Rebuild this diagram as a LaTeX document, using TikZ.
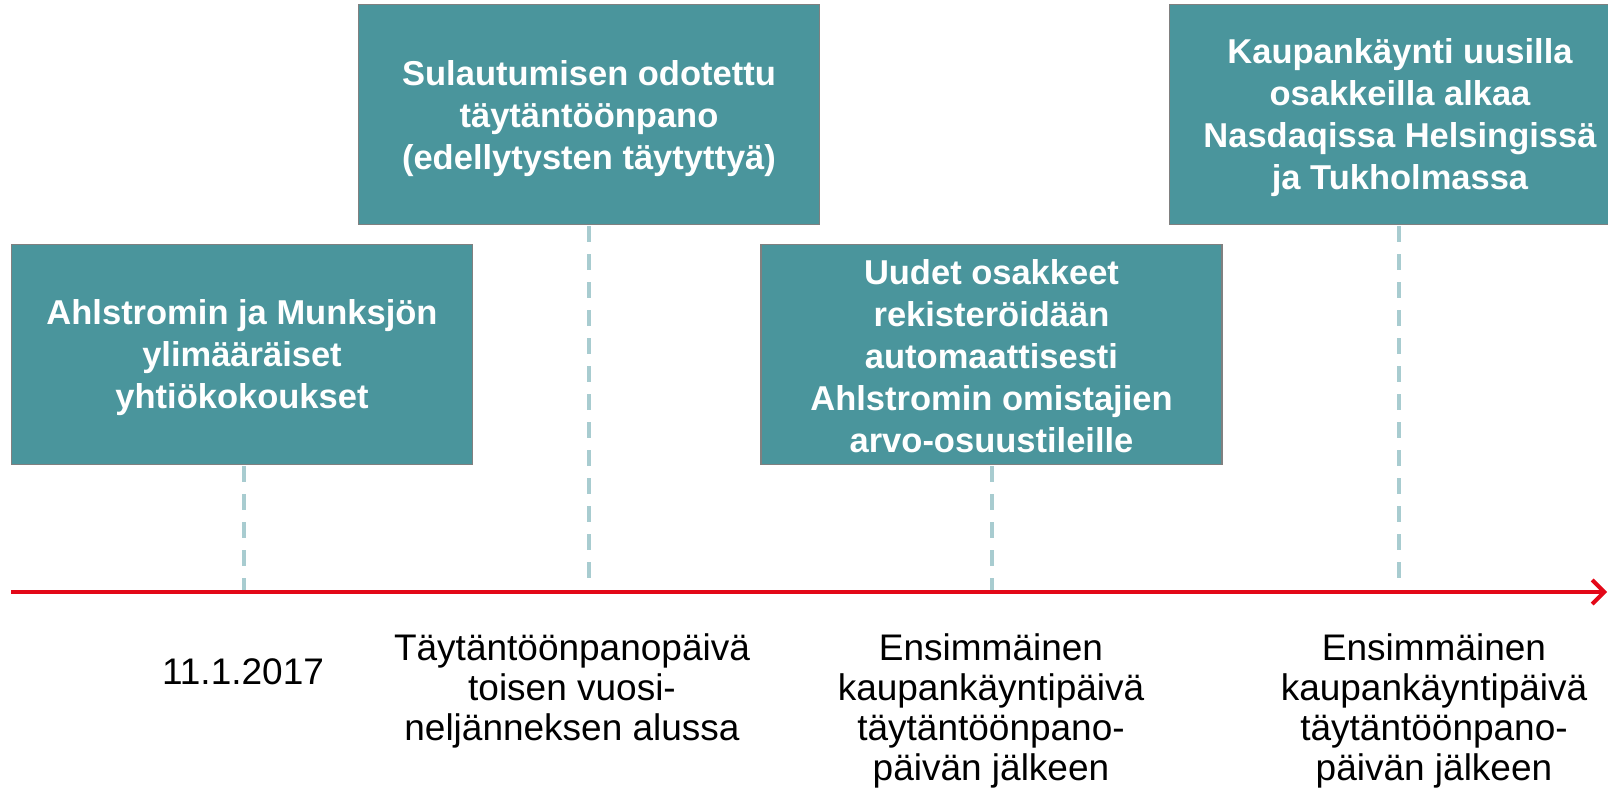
\documentclass[tikz,border=0pt]{standalone}
\usepackage{fontspec}
\setmainfont{Liberation Sans}
\usetikzlibrary{arrows.meta}
\definecolor{boxteal}{RGB}{74,149,156}
\definecolor{boxedge}{RGB}{128,128,128}
\definecolor{dashcol}{RGB}{168,204,208}
\definecolor{axisred}{RGB}{227,8,24}
\tikzset{
  evbox/.style={draw=boxedge, line width=1.5pt, fill=boxteal,
    minimum width=461pt, minimum height=220pt, inner sep=0pt},
  evtext/.style={text=white, align=center, inner sep=0pt,
    font=\fontsize{34.5}{42}\selectfont\bfseries},
  tick/.style={draw=dashcol, line width=4pt, dash pattern=on 16pt off 12pt},
  datelbl/.style={align=center, inner sep=0pt, text=black,
    font=\fontsize{37}{40}\selectfont},
  axisline/.style={draw=axisred, line width=4pt,
    -{Straight Barb[length=12pt,width=24pt,line width=4pt]}}
}
\begin{document}
\begin{tikzpicture}[x=1pt,y=-1pt]
\useasboundingbox (0,0) rectangle (1608,806);
\begin{scope}
\clip (0,0) rectangle (1608,806);
\node[evbox] (b1) at (242,354.5) {};
\node[evbox] (b2) at (589,114.5) {};
\node[evbox] (b3) at (991.5,354.5) {};
\node[evbox] (b4) at (1400,114.5) {};
\end{scope}
\node[evtext] (t1) at ([yshift=-3pt]b1.center) {Ahlstromin ja Munksjön\\ylimääräiset\\yhtiökokoukset};
\node[evtext] (t2) at ([yshift=-4pt]b2.center) {Sulautumisen odotettu\\täytäntöönpano\\(edellytysten täytyttyä)};
\node[evtext] (t3) at ([yshift=-2pt]b3.center) {Uudet osakkeet\\rekisteröidään\\automaattisesti\\Ahlstromin omistajien\\arvo-osuustileille};
\node[evtext] (t4) at ([yshift=-3pt]b4.center) {Kaupankäynti uusilla\\osakkeilla alkaa\\Nasdaqissa Helsingissä\\ja Tukholmassa};
\coordinate (axstart) at (11,592);
\coordinate (axend) at (1607,592);
\draw[tick] ([yshift=-1pt]b1.south -| 244,0) -- (244,592);
\draw[tick] ([yshift=-1pt]b2.south) -- (b2.south |- axstart);
\draw[tick] ([yshift=-1pt]b3.south) -- (b3.south |- axstart);
\draw[tick] ([yshift=-1pt]b4.south -| 1399,0) -- (1399,592);
\draw[axisline] (axstart) -- (axend);
\node[datelbl] (l1) at (243,672) {11.1.2017};
\node[datelbl] (l2) at (572,691) {Täytäntöönpanopäivä\\toisen vuosi-\\neljänneksen alussa};
\node[datelbl] (l3) at (991,711) {Ensimmäinen\\kaupankäyntipäivä\\täytäntöönpano-\\päivän jälkeen};
\node[datelbl] (l4) at (1434,711) {Ensimmäinen\\kaupankäyntipäivä\\täytäntöönpano-\\päivän jälkeen};
\end{tikzpicture}
\end{document}
